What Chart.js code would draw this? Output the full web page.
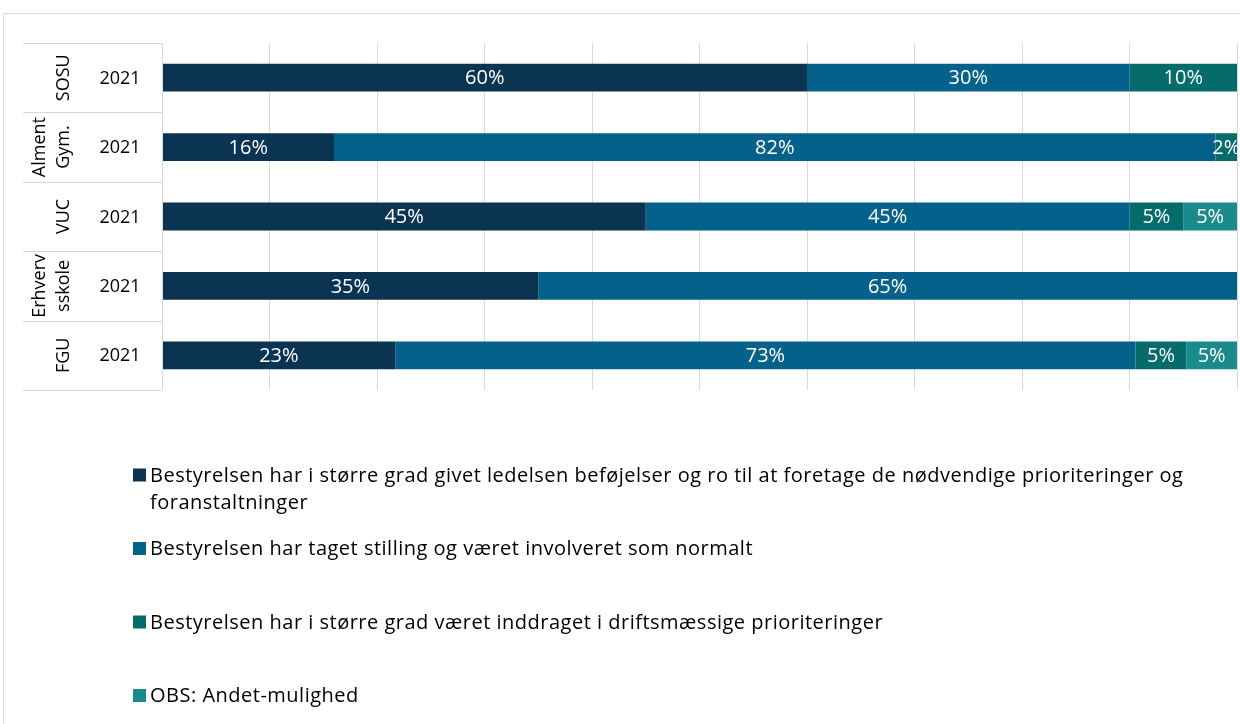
<!DOCTYPE html>
<html>
<head>
<meta charset="utf-8">
<script src="https://cdn.jsdelivr.net/npm/chart.js@4/dist/chart.umd.min.js"></script>
<style>
  html, body { margin: 0; padding: 0; background: #ffffff; }
  #wrap { position: absolute; left: 0; top: 0; width: 1240px; height: 724px; }
</style>
</head>
<body>
<div id="wrap"><canvas id="c" width="1240" height="724"></canvas></div>
<script>
// Institution groups (two-level category axis: group + year)
const groups = ['SOSU', ['Alment', 'Gym.'], 'VUC', ['Erhverv', 'sskole'], 'FGU'];
const years = ['2021', '2021', '2021', '2021', '2021'];

// Answer shares in percent, one array per answer option
const seriesLabels = [
  'Bestyrelsen har i større grad givet ledelsen beføjelser og ro til at foretage de nødvendige prioriteringer og foranstaltninger',
  'Bestyrelsen har taget stilling og været involveret som normalt',
  'Bestyrelsen har i større grad været inddraget i driftsmæssige prioriteringer',
  'OBS: Andet-mulighed'
];
const givetBefoejelser = [60, 16, 45, 35, 23];
const somNormalt      = [30, 82, 45, 65, 73];
const driftsmaessige  = [10,  2,  5,  0,  5];
const andet           = [ 0,  0,  5,  0,  5];

const seriesValues = [givetBefoejelser, somNormalt, driftsmaessige, andet];
const seriesColors = ['#0b3453', '#04628a', '#056b6b', '#1b8a8b'];

// 100 % stacked: each row is scaled to its own total
const rowTotals = groups.map((_, i) => seriesValues.reduce((s, arr) => s + arr[i], 0));

const datasets = seriesValues.map((vals, k) => ({
  label: seriesLabels[k],
  data: vals.map((v, i) => v / rowTotals[i] * 100),
  raw: vals,
  backgroundColor: seriesColors[k],
  borderWidth: 0,
  categoryPercentage: 1,
  barPercentage: 0.4
}));

const GRID = '#d9d9d9';
const AXIS_FONT = '18px "Open Sans", sans-serif';
const LEGEND_FONT = '20px "Open Sans", sans-serif';

// Outer frame of the chart object
const framePlugin = {
  id: 'frame',
  beforeDraw(chart) {
    const ctx = chart.ctx;
    ctx.save();
    ctx.strokeStyle = GRID;
    ctx.lineWidth = 1;
    ctx.strokeRect(3.5, 13.5, 1400, 900);
    ctx.restore();
  }
};

// Table-style category axis on the left
const catAxisPlugin = {
  id: 'catAxis',
  afterDraw(chart) {
    const ctx = chart.ctx;
    const area = chart.chartArea;
    const y = chart.scales.y;
    const n = groups.length;
    const step = (area.bottom - area.top) / n;
    const left = 23;
    ctx.save();
    ctx.strokeStyle = GRID;
    ctx.lineWidth = 1;
    ctx.beginPath();
    for (let i = 0; i <= n; i++) {
      const yy = Math.round(area.top + i * step) + 0.5;
      ctx.moveTo(left, yy);
      ctx.lineTo(area.left, yy);
    }
    ctx.moveTo(Math.round(area.left) + 0.5, area.top);
    ctx.lineTo(Math.round(area.left) + 0.5, area.bottom);
    ctx.stroke();

    ctx.fillStyle = '#000000';
    ctx.font = AXIS_FONT;
    ctx.textAlign = 'center';
    ctx.textBaseline = 'middle';
    for (let i = 0; i < n; i++) {
      const cy = y.getPixelForValue(i);
      ctx.fillText(years[i], 120, cy + 1);
      const lines = Array.isArray(groups[i]) ? groups[i] : [groups[i]];
      lines.forEach((txt, j) => {
        const cx = 64 - (lines.length - 1 - j) * 24;
        ctx.save();
        ctx.translate(cx, cy);
        ctx.rotate(-Math.PI / 2);
        ctx.fillText(txt, 0, 0);
        ctx.restore();
      });
    }
    ctx.restore();
  }
};

// Value labels inside the bar segments
const valueLabelPlugin = {
  id: 'valueLabels',
  afterDatasetsDraw(chart) {
    const ctx = chart.ctx;
    ctx.save();
    ctx.fillStyle = '#ffffff';
    ctx.font = '20px "Open Sans", sans-serif';
    ctx.textAlign = 'center';
    ctx.textBaseline = 'middle';
    chart.data.datasets.forEach((ds, k) => {
      const meta = chart.getDatasetMeta(k);
      meta.data.forEach((bar, i) => {
        const v = ds.raw[i];
        if (!v) return;
        const cx = (bar.x + bar.base) / 2;
        ctx.fillText(v + '%', cx, bar.y + 1);
      });
    });
    ctx.restore();
  }
};

// Legend below the plot, one entry per row
const legendPlugin = {
  id: 'bottomLegend',
  afterDraw(chart) {
    const ctx = chart.ctx;
    const maxW = 1065;
    const x0 = 133, tx = 150, top = 475, stepY = 73.5, lineH = 27;
    ctx.save();
    ctx.font = LEGEND_FONT;
    if ('letterSpacing' in ctx) ctx.letterSpacing = '0.5px';
    ctx.textBaseline = 'middle';
    ctx.textAlign = 'left';
    chart.data.datasets.forEach((ds, k) => {
      const yy = top + k * stepY;
      ctx.fillStyle = ds.backgroundColor;
      ctx.fillRect(x0, yy - 6.5, 13, 13);
      ctx.fillStyle = '#000000';
      const words = ds.label.split(' ');
      let line = '', row = 0;
      words.forEach(w => {
        const test = line ? line + ' ' + w : w;
        if (ctx.measureText(test).width > maxW && line) {
          ctx.fillText(line, tx, yy + row * lineH + 1);
          line = w; row++;
        } else {
          line = test;
        }
      });
      ctx.fillText(line, tx, yy + row * lineH + 1);
    });
    ctx.restore();
  }
};

function draw() {
  new Chart(document.getElementById('c'), {
    type: 'bar',
    data: { labels: years, datasets },
    options: {
      indexAxis: 'y',
      responsive: false,
      animation: false,
      layout: { padding: { left: 162, top: 43, right: 3, bottom: 334 } },
      plugins: { legend: { display: false }, tooltip: { enabled: false } },
      scales: {
        x: {
          stacked: true, min: 0, max: 100,
          ticks: { display: false, stepSize: 10 },
          grid: { color: GRID, lineWidth: 1, drawTicks: false },
          border: { display: false }
        },
        y: {
          stacked: true,
          ticks: { display: false },
          grid: { display: false, drawTicks: false },
          border: { display: false }
        }
      }
    },
    plugins: [framePlugin, catAxisPlugin, valueLabelPlugin, legendPlugin]
  });
}

Promise.all([
  document.fonts.load('18px "Open Sans"'),
  document.fonts.load('20px "Open Sans"')
]).then(draw, draw);
</script>
</body>
</html>
